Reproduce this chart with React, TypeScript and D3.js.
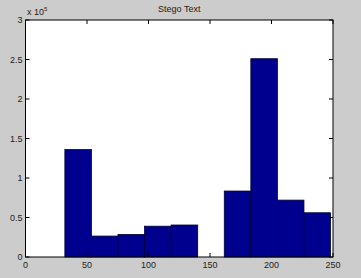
import React from "react";
import * as d3 from "d3";

const binEdges = [32, 53.6, 75.2, 96.8, 118.4, 140, 161.6, 183.2, 204.8, 226.4, 248];
const counts = [1.36e5, 0.265e5, 0.285e5, 0.39e5, 0.405e5, 0, 0.835e5, 2.51e5, 0.72e5, 0.56e5];
const xTicks = [0, 50, 100, 150, 200, 250];
const yTicks = [0, 0.5e5, 1e5, 1.5e5, 2e5, 2.5e5, 3e5];
const title = "Stego Text";

const W = 361;
const H = 278;
const margin = { left: 25.5, right: 28, top: 20, bottom: 21 };

const App: React.FC = () => {
  const x = d3.scaleLinear().domain([0, 250]).range([margin.left, W - margin.right]);
  const y = d3.scaleLinear().domain([0, 3e5]).range([H - margin.bottom, margin.top]);
  const font = "Liberation Sans, Arial, sans-serif";
  const tick = 4;

  return (
    <svg
      width={W}
      height={H}
      style={{ position: "absolute", left: 0, top: 0, background: "#cccccc" }}
    >
      <rect x={0} y={0} width={W} height={H} fill="#cccccc" />
      <rect
        x={x(0)}
        y={y(3e5)}
        width={x(250) - x(0)}
        height={y(0) - y(3e5)}
        fill="#ffffff"
      />
      {counts.map((c, i) =>
        c > 0 ? (
          <rect
            key={i}
            x={x(binEdges[i])}
            y={y(c)}
            width={x(binEdges[i + 1]) - x(binEdges[i])}
            height={y(0) - y(c)}
            fill="#00008f"
            stroke="#000033"
            strokeWidth={0.8}
          />
        ) : null
      )}
      <rect
        x={x(0)}
        y={y(3e5)}
        width={x(250) - x(0)}
        height={y(0) - y(3e5)}
        fill="none"
        stroke="#000"
        strokeWidth={1}
      />
      {xTicks.map((t) => (
        <g key={"x" + t}>
          <line x1={x(t)} x2={x(t)} y1={y(0)} y2={y(0) - tick} stroke="#000" />
          <line x1={x(t)} x2={x(t)} y1={y(3e5)} y2={y(3e5) + tick} stroke="#000" />
          <text
            x={x(t)}
            y={y(0) + 10.5}
            textAnchor="middle"
            fontSize={9}
            fontFamily={font}
            fill="#222"
          >
            {t}
          </text>
        </g>
      ))}
      {yTicks.map((t) => (
        <g key={"y" + t}>
          <line x1={x(0)} x2={x(0) + tick} y1={y(t)} y2={y(t)} stroke="#000" />
          <line x1={x(250)} x2={x(250) - tick} y1={y(t)} y2={y(t)} stroke="#000" />
          <text
            x={x(0) - 3}
            y={y(t) + 3}
            textAnchor="end"
            fontSize={9}
            fontFamily={font}
            fill="#222"
          >
            {d3.format("~g")(t / 1e5)}
          </text>
        </g>
      ))}
      <text x={27} y={15} fontSize={9} fontFamily={font} fill="#222">
        x 10
        <tspan dy={-4} fontSize={6}>5</tspan>
      </text>
      <text
        x={(x(0) + x(250)) / 2}
        y={12}
        textAnchor="middle"
        fontSize={9}
        fontFamily={font}
        fill="#222"
      >
        {title}
      </text>
    </svg>
  );
};

export default App;
